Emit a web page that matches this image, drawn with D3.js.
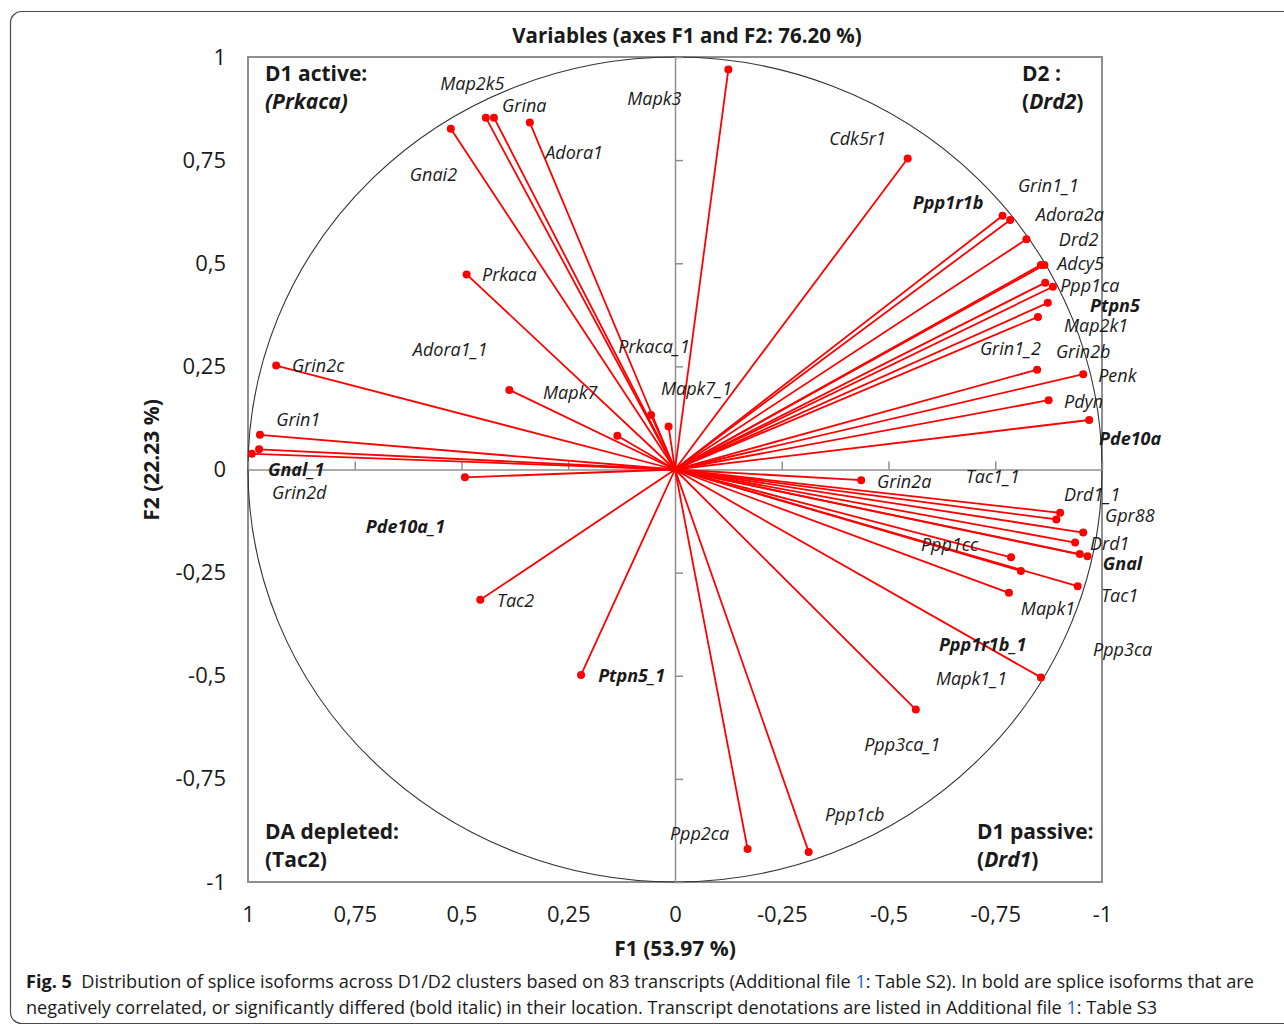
<!DOCTYPE html>
<html>
<head>
<meta charset="utf-8">
<script src="https://cdn.jsdelivr.net/npm/d3@7"></script>
<style>
  body { margin: 0; background: #fff; }
  svg { display: block; }
  text { font-family: "Open Sans", "Noto Sans", sans-serif; fill: #1a1a1a; }
</style>
</head>
<body>
<svg id="chart" width="1284" height="1027"></svg>
<script>
// Transcripts and their loadings on the first two factors
const transcripts = [
  "Map2k5", "Grina", "Adora1", "Gnai2", "Prkaca", "Mapk3", "Grin2c", "Grin1",
  "Gnal_1", "Grin2d", "Mapk7", "Adora1_1", "Prkaca_1", "Mapk7_1", "Pde10a_1",
  "Cdk5r1", "Ppp1r1b", "Grin1_1", "Adora2a", "Drd2", "Adcy5", "Ppp1ca", "Ptpn5",
  "Map2k1", "Grin2b", "Grin1_2", "Penk", "Pdyn", "Pde10a",
  "Grin2a", "Tac1_1", "Drd1_1", "Gpr88", "Drd1", "Gnal", "Tac1", "Ppp1cc",
  "Mapk1", "Ppp3ca", "Ppp1r1b_1", "Mapk1_1", "Ppp3ca_1", "Ppp1cb", "Ppp2ca",
  "Tac2", "Ptpn5_1"
];
const f1 = [
  0.443, 0.424, 0.340, 0.525, 0.488, -0.125, 0.934, 0.972,
  0.974, 0.991, 0.388, 0.135, 0.056, 0.015, 0.492,
  -0.545, -0.767, -0.785, -0.823, -0.857, -0.865, -0.867, -0.885,
  -0.873, -0.850, -0.848, -0.956, -0.875, -0.970,
  -0.436, -0.902, -0.893, -0.956, -0.937, -0.948, -0.966, -0.787,
  -0.810, -0.943, -0.782, -0.857, -0.564, -0.313, -0.170,
  0.456, 0.220
];
const f2 = [
  0.853, 0.853, 0.841, 0.826, 0.473, 0.970, 0.252, 0.084,
  0.049, 0.038, 0.193, 0.082, 0.132, 0.104, -0.019,
  0.754, 0.615, 0.605, 0.558, 0.496, 0.496, 0.453, 0.443,
  0.404, 0.370, 0.242, 0.231, 0.168, 0.120,
  -0.026, -0.105, -0.121, -0.153, -0.177, -0.205, -0.210, -0.213,
  -0.246, -0.283, -0.299, -0.504, -0.582, -0.927, -0.920,
  -0.316, -0.498
];
// Where each name is written, in factor units
const labelF1 = [
  0.550, 0.405, 0.304, 0.621, 0.452, 0.112, 0.897, 0.934,
  0.953, 0.944, 0.309, 0.614, 0.133, 0.033, 0.724,
  -0.361, -0.557, -0.803, -0.845, -0.899, -0.895, -0.902, -0.972,
  -0.911, -0.892, -0.714, -0.991, -0.911, -0.993,
  -0.473, -0.681, -0.911, -1.007, -0.972, -1.002, -0.998, -0.576,
  -0.810, -0.979, -0.618, -0.611, -0.443, -0.351, 0.012,
  0.417, 0.180
];
const labelF2 = [
  0.920, 0.867, 0.753, 0.700, 0.457, 0.884, 0.236, 0.105,
  -0.016, -0.072, 0.171, 0.275, 0.282, 0.181, -0.154,
  0.787, 0.632, 0.673, 0.602, 0.542, 0.483, 0.430, 0.382,
  0.333, 0.270, 0.278, 0.212, 0.149, 0.059,
  -0.045, -0.033, -0.076, -0.127, -0.195, -0.244, -0.321, -0.198,
  -0.353, -0.452, -0.440, -0.522, -0.682, -0.852, -0.898,
  -0.333, -0.515
];
// Isoforms written in bold italic
const emphasised = ["Gnal_1", "Pde10a_1", "Ppp1r1b", "Ptpn5", "Pde10a", "Gnal", "Ppp1r1b_1", "Ptpn5_1"];
const tickValues = [1, 0.75, 0.5, 0.25, 0, -0.25, -0.5, -0.75, -1];

const chartTitle = "Variables (axes F1 and F2: 76.20 %)";
const xTitle = "F1 (53.97 %)";
const yTitle = "F2 (22.23 %)";

const svg = d3.select("#chart");
const red = "#ff0000";

// Outer figure frame
svg.append("rect")
  .attr("x", 10.5).attr("y", 11.5)
  .attr("width", 1300).attr("height", 1012)
  .attr("rx", 11).attr("ry", 11)
  .attr("fill", "none").attr("stroke", "#4a4a4a").attr("stroke-width", 1.2);

const x = d3.scaleLinear().domain([1, -1]).range([248, 1102]);
const y = d3.scaleLinear().domain([1, -1]).range([57, 882]);

const comma = d => String(d).replace(".", ",");

// Plot frame
svg.append("rect")
  .attr("x", x(1)).attr("y", y(1))
  .attr("width", x(-1) - x(1)).attr("height", y(-1) - y(1))
  .attr("fill", "none").attr("stroke", "#8f8f8f").attr("stroke-width", 2);

// Unit correlation circle
svg.append("ellipse")
  .attr("cx", x(0)).attr("cy", y(0))
  .attr("rx", x(-1) - x(0)).attr("ry", y(-1) - y(0))
  .attr("fill", "none").attr("stroke", "#333").attr("stroke-width", 1.1);

// Zero axes with inner ticks
const vAxis = svg.append("g").attr("transform", `translate(${x(0)},0)`)
  .call(d3.axisRight(y).tickValues(tickValues).tickSize(8).tickSizeOuter(0).tickFormat(""));
const hAxis = svg.append("g").attr("transform", `translate(0,${y(0)})`)
  .call(d3.axisTop(x).tickValues(tickValues).tickSize(8).tickSizeOuter(0).tickFormat(""));
[vAxis, hAxis].forEach(g => {
  g.selectAll("path, line").attr("stroke", "#8f8f8f").attr("stroke-width", 1.5);
});

// Outer tick labels
const yAxis = svg.append("g").attr("transform", `translate(${x(1)},0)`)
  .call(d3.axisLeft(y).tickValues(tickValues).tickSize(0).tickPadding(22).tickFormat(comma));
const xAxis = svg.append("g").attr("transform", `translate(0,${y(-1)})`)
  .call(d3.axisBottom(x).tickValues(tickValues).tickSize(0).tickPadding(24).tickFormat(comma));
[yAxis, xAxis].forEach(g => {
  g.select(".domain").remove();
  g.selectAll("text").attr("font-size", 22).attr("font-family", "'Open Sans', sans-serif").attr("fill", "#1a1a1a");
});

// Loading vectors
const rows = transcripts.map((name, i) => ({
  name, f1: f1[i], f2: f2[i], lf1: labelF1[i], lf2: labelF2[i], strong: emphasised.includes(name)
}));

svg.append("g").selectAll("line").data(rows).join("line")
  .attr("x1", x(0)).attr("y1", y(0))
  .attr("x2", d => x(d.f1)).attr("y2", d => y(d.f2))
  .attr("stroke", red).attr("stroke-width", 1.8);

svg.append("g").selectAll("circle").data(rows).join("circle")
  .attr("cx", d => x(d.f1)).attr("cy", d => y(d.f2)).attr("r", 4)
  .attr("fill", red);

svg.append("g").selectAll("text").data(rows).join("text")
  .attr("x", d => x(d.lf1)).attr("y", d => y(d.lf2))
  .attr("font-size", 18).attr("font-style", "italic")
  .attr("font-weight", d => d.strong ? 700 : 400)
  .text(d => d.name);

// Title and axis titles
svg.append("text").attr("x", 687).attr("y", 43).attr("text-anchor", "middle")
  .attr("font-size", 20.5).attr("font-weight", 700).text(chartTitle);
svg.append("text").attr("x", 675).attr("y", 956).attr("text-anchor", "middle")
  .attr("font-size", 21).attr("font-weight", 700).text(xTitle);
svg.append("text").attr("transform", "translate(159,460) rotate(-90)").attr("text-anchor", "middle")
  .attr("font-size", 21).attr("font-weight", 700).text(yTitle);

// Quadrant captions
function quadrant(px, py, first, parts) {
  const g = svg.append("g").attr("font-size", 21).attr("font-weight", 700);
  g.append("text").attr("x", px).attr("y", py).text(first);
  const t = g.append("text").attr("x", px).attr("y", py + 28);
  parts.forEach(([s, it]) => t.append("tspan").attr("font-style", it ? "italic" : "normal").text(s));
}
quadrant(265, 81, "D1 active:", [["(Prkaca)", true]]);
quadrant(1022, 81, "D2 :", [["(", false], ["Drd2", true], [")", false]]);
quadrant(265, 839, "DA depleted:", [["(Tac2)", false]]);
quadrant(977, 839, "D1 passive:", [["(", false], ["Drd1", true], [")", false]]);

// Figure caption
const captionLines = [
  [["Fig. 5", "b"], ["  Distribution of splice isoforms across D1/D2 clusters based on 83 transcripts (Additional file ", ""], ["1", "link"], [": Table S2). In bold are splice isoforms that are", ""]],
  [["negatively correlated, or significantly differed (bold italic) in their location. Transcript denotations are listed in Additional file ", ""], ["1", "link"], [": Table S3", ""]]
];
const captionWidths = [1229, 1132];
captionLines.forEach((parts, i) => {
  const t = svg.append("text").attr("x", 0).attr("y", 0).attr("font-size", 18)
    .style("white-space", "pre").attr("xml:space", "preserve");
  parts.forEach(([s, kind]) => {
    const sp = t.append("tspan").text(s);
    if (kind === "b") sp.attr("font-weight", 700);
    if (kind === "link") sp.style("fill", "#2a62c9");
  });
  const w = t.node().getComputedTextLength();
  t.attr("transform", `translate(26,${988 + i * 26}) scale(${captionWidths[i] / w},1)`);
});
</script>
</body>
</html>
